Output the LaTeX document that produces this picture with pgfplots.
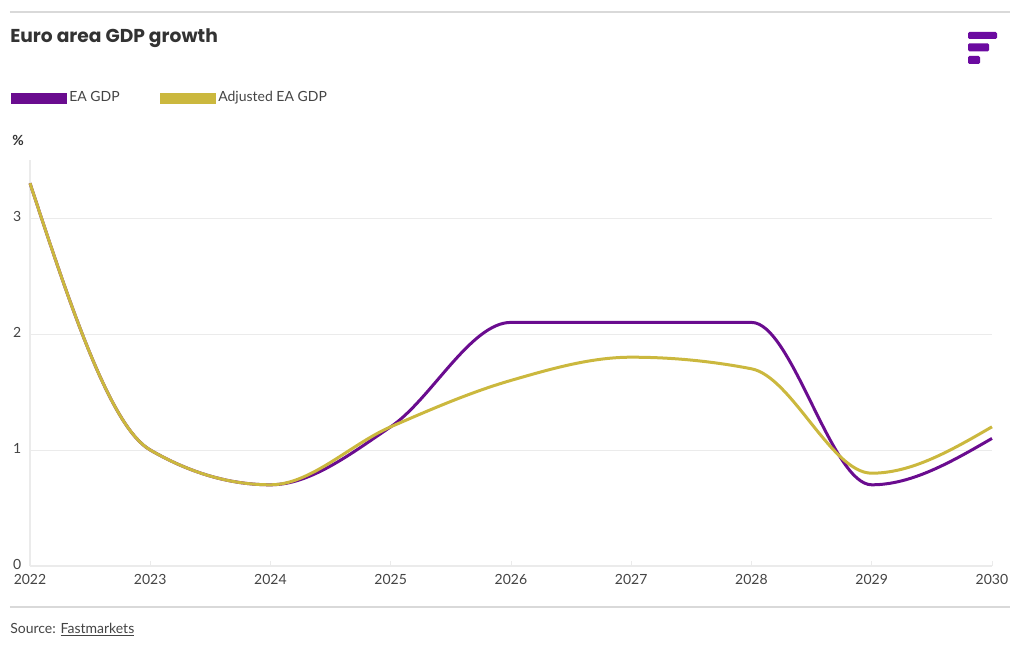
\documentclass[border=0pt]{standalone}
\usepackage{pgfplots}
\pgfplotsset{compat=1.18}
\usepackage{fontspec}
\setmainfont{Lato}
\newfontfamily\titlefont{Poppins}
\definecolor{eapurple}{HTML}{6A0C8F}
\definecolor{eagold}{HTML}{CBB83E}
\definecolor{logopurple}{HTML}{6B0AA0}
\definecolor{txt}{HTML}{444444}
\definecolor{titletxt}{HTML}{333333}
\definecolor{gridc}{HTML}{EBEBEB}
\definecolor{rulec}{HTML}{D9D9D9}
% ---- monotone cubic (monotone-x) plot handler ----
\makeatletter
\newcount\mono@n
\newcount\mono@i
\def\mono@set#1#2{\expandafter\xdef\csname mono@#1\endcsname{#2}}
\def\mono@get#1{\csname mono@#1\endcsname}
\def\mono@point#1{%
  \global\advance\mono@n by 1
  \pgf@process{#1}%
  \mono@set{x\the\mono@n}{\pgf@sys@tonumber\pgf@x}%
  \mono@set{y\the\mono@n}{\pgf@sys@tonumber\pgf@y}%
}
\def\mono@end{%
  \mono@i=1
  \loop\ifnum\mono@i<\mono@n
    \edef\mono@j{\the\numexpr\mono@i+1\relax}%
    \edef\mono@expr{\mono@get{x\mono@j}-\mono@get{x\the\mono@i}}%
    \pgfmathsetmacro\mono@h{\mono@expr}%
    \edef\mono@expr{(\mono@get{y\mono@j}-\mono@get{y\the\mono@i})/\mono@h}%
    \pgfmathsetmacro\mono@s{\mono@expr}%
    \mono@set{h\the\mono@i}{\mono@h}%
    \mono@set{s\the\mono@i}{\mono@s}%
    \advance\mono@i by 1
  \repeat
  \mono@i=2
  \loop\ifnum\mono@i<\mono@n
    \edef\mono@k{\the\numexpr\mono@i-1\relax}%
    \edef\mono@sa{\mono@get{s\mono@k}}%
    \edef\mono@sb{\mono@get{s\the\mono@i}}%
    \edef\mono@ha{\mono@get{h\mono@k}}%
    \edef\mono@hb{\mono@get{h\the\mono@i}}%
    \pgfmathsetmacro\mono@p{(\mono@sa*\mono@hb+\mono@sb*\mono@ha)/(\mono@ha+\mono@hb)}%
    \pgfmathsetmacro\mono@m{(sign(\mono@sa)+sign(\mono@sb))*min(abs(\mono@sa),abs(\mono@sb),0.5*abs(\mono@p))}%
    \mono@set{m\the\mono@i}{\mono@m}%
    \advance\mono@i by 1
  \repeat
  \edef\mono@expr{(3*\mono@get{s1}-\mono@get{m2})/2}%
  \pgfmathsetmacro\mono@m{\mono@expr}%
  \mono@set{m1}{\mono@m}%
  \edef\mono@k{\the\numexpr\mono@n-1\relax}%
  \edef\mono@expr{(3*\mono@get{s\mono@k}-\mono@get{m\mono@k})/2}%
  \pgfmathsetmacro\mono@m{\mono@expr}%
  \mono@set{m\the\mono@n}{\mono@m}%
  \pgfpathmoveto{\pgfqpoint{\mono@get{x1}pt}{\mono@get{y1}pt}}%
  \mono@i=1
  \loop\ifnum\mono@i<\mono@n
    \edef\mono@j{\the\numexpr\mono@i+1\relax}%
    \edef\mono@xa{\mono@get{x\the\mono@i}}\edef\mono@ya{\mono@get{y\the\mono@i}}%
    \edef\mono@xb{\mono@get{x\mono@j}}\edef\mono@yb{\mono@get{y\mono@j}}%
    \edef\mono@ma{\mono@get{m\the\mono@i}}\edef\mono@mb{\mono@get{m\mono@j}}%
    \edef\mono@hh{\mono@get{h\the\mono@i}}%
    \pgfmathsetmacro\mono@dx{\mono@hh/3}%
    \pgfmathsetmacro\mono@cax{\mono@xa+\mono@dx}%
    \pgfmathsetmacro\mono@cay{\mono@ya+\mono@dx*\mono@ma}%
    \pgfmathsetmacro\mono@cbx{\mono@xb-\mono@dx}%
    \pgfmathsetmacro\mono@cby{\mono@yb-\mono@dx*\mono@mb}%
    \pgfpathcurveto{\pgfqpoint{\mono@cax pt}{\mono@cay pt}}{\pgfqpoint{\mono@cbx pt}{\mono@cby pt}}{\pgfqpoint{\mono@xb pt}{\mono@yb pt}}%
    \advance\mono@i by 1
  \repeat
}
\pgfdeclareplothandler{\pgfplothandlermonotone}{}{%
  start={\global\mono@n=0 },
  point macro=\mono@point,
  end={\mono@end}
}
\tikzset{monotone/.code={\def\tikz@plot@handler{\pgfplothandlermonotone}}}
\makeatother
\begin{document}
\begin{tikzpicture}
\useasboundingbox (-22.5pt,-63pt) rectangle (742.5pt,424.5pt);
\begin{axis}[
  scale only axis,
  width=721.5pt, height=304.5pt,
  xmin=2022, xmax=2030, ymin=0, ymax=3.5,
  clip=false,
  axis x line*=bottom, axis y line*=left,
  axis line style={draw=gridc, line width=0.8pt, -},
  xtick={2022,...,2030},
  ytick={0,1,2,3},
  xticklabel style={font=\fontsize{10.5pt}{12pt}\selectfont, text=txt, yshift=-2.75pt},
  yticklabel style={font=\fontsize{10.5pt}{12pt}\selectfont, text=txt, xshift=-3pt, yshift=1.5pt},
  /pgf/number format/assume math mode=true,
  xticklabel={\pgfmathprintnumber[1000 sep={},fixed]{\tick}},
  ymajorgrids, grid style={draw=gridc, line width=0.6pt},
  major tick length=4pt,
  tick style={draw=gridc, line width=0.6pt},
  xtick pos=bottom, ytick pos=left,
  tick align=inside,
]
\addplot[eapurple, line width=2.25pt, monotone] coordinates {
 (2022,3.3) (2023,1.0) (2024,0.7) (2025,1.2) (2026,2.1) (2027,2.1) (2028,2.1) (2029,0.7) (2030,1.1)};
\addplot[eagold, line width=2.25pt, monotone] coordinates {
 (2022,3.3) (2023,1.0) (2024,0.7) (2025,1.2) (2026,1.6) (2027,1.8) (2028,1.7) (2029,0.8) (2030,1.2)};
\end{axis}
% frame rules
\draw[rulec, line width=1.5pt] (-15pt,415.5pt) -- (735pt,415.5pt);
\draw[rulec, line width=1.5pt] (-15pt,-30.75pt) -- (735pt,-30.75pt);
% title
\node[anchor=base west, inner sep=0pt, text=titletxt, font=\titlefont\bfseries\fontsize{14pt}{16pt}\selectfont] at (-15pt,392.25pt) {Euro area GDP growth};
% logo
\fill[logopurple, rounded corners=1pt] (703.5pt,395.25pt) rectangle (725.25pt,400.5pt);
\fill[logopurple, rounded corners=1pt] (703.5pt,386pt) rectangle (719.25pt,392pt);
\fill[logopurple, rounded corners=1pt] (703.5pt,376.5pt) rectangle (712.5pt,382.5pt);
% legend
\fill[eapurple] (-14.25pt,346.5pt) rectangle (27.75pt,354.75pt);
\node[anchor=base west, inner sep=0pt, text=txt, font=\fontsize{10.5pt}{12pt}\selectfont] at (29.25pt,348pt) {EA GDP};
\fill[eagold] (97.5pt,346.5pt) rectangle (139.5pt,354.75pt);
\node[anchor=base west, inner sep=0pt, text=txt, font=\fontsize{10.5pt}{12pt}\selectfont] at (141pt,348pt) {Adjusted EA GDP};
% unit
\node[anchor=base west, inner sep=0pt, text=titletxt, font=\bfseries\fontsize{10.5pt}{12pt}\selectfont] at (-13.5pt,315pt) {\%};
% source
\node[anchor=base west, inner sep=0pt, text=txt, font=\fontsize{10.5pt}{12pt}\selectfont] at (-15pt,-50.25pt) {Source: \underline{Fastmarkets}};
\end{tikzpicture}
\end{document}
